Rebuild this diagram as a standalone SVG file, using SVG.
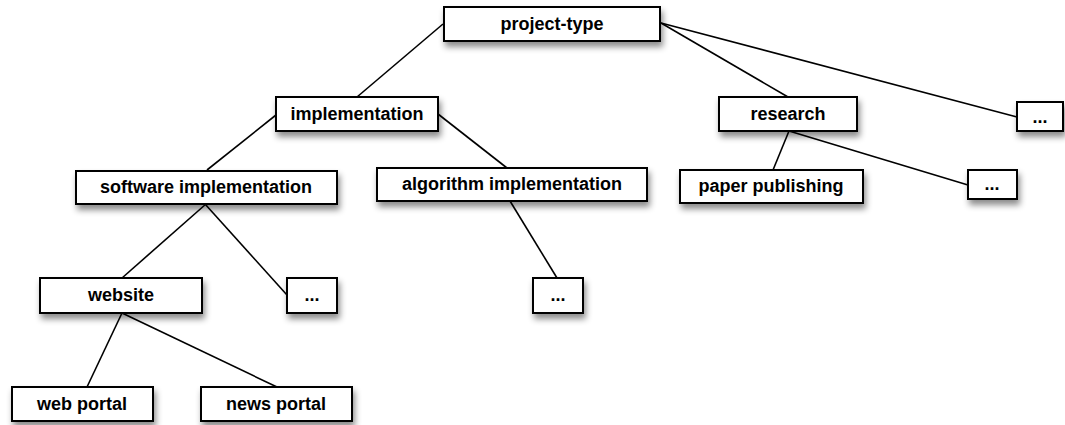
<svg xmlns="http://www.w3.org/2000/svg" width="1065" height="425" viewBox="0 0 1065 425">
<defs>
<filter id="sh" x="-20%" y="-30%" width="140%" height="180%">
<feDropShadow dx="2" dy="5" stdDeviation="3" flood-color="#000" flood-opacity="0.45"/>
</filter>
</defs>
<style>
.box{fill:#fff;stroke:#000;stroke-width:2;filter:url(#sh)}
.lbl{font-family:"Liberation Sans",Arial,Helvetica,sans-serif;font-weight:bold;font-size:18px;text-anchor:middle;fill:#000}
.con line{stroke:#000;stroke-width:1.6;fill:none}
</style>
<rect width="1065" height="425" fill="#fff"/>
<g class="con" id="connectors">
<line x1="443" y1="24" x2="357" y2="97"/>
<line x1="661" y1="23" x2="788" y2="97"/>
<line x1="661" y1="23" x2="1017" y2="117"/>
<line x1="276" y1="115" x2="207" y2="170"/>
<line x1="438" y1="114" x2="507" y2="168"/>
<line x1="206" y1="204" x2="122" y2="278"/>
<line x1="205" y1="204" x2="287" y2="295"/>
<line x1="510" y1="201" x2="557" y2="278"/>
<line x1="789" y1="131" x2="773" y2="170"/>
<line x1="789" y1="131" x2="968" y2="185"/>
<line x1="122" y1="313" x2="87" y2="387"/>
<line x1="122" y1="313" x2="277" y2="387"/>
</g>
<g id="project-type"><rect class="box" x="444" y="7" width="216" height="34"/><text class="lbl" x="552" y="30">project-type</text></g>
<g id="implementation"><rect class="box" x="276" y="97" width="162" height="34"/><text class="lbl" x="357" y="120">implementation</text></g>
<g id="research"><rect class="box" x="719" y="97" width="138" height="34"/><text class="lbl" x="788" y="120">research</text></g>
<g id="more-top"><rect class="box" x="1017" y="102" width="46" height="29"/><text class="lbl" x="1040" y="123">...</text></g>
<g id="software-implementation"><rect class="box" x="76" y="171" width="261" height="33"/><text class="lbl" x="206" y="193">software implementation</text></g>
<g id="algorithm-implementation"><rect class="box" x="377" y="168" width="270" height="33"/><text class="lbl" x="512" y="190">algorithm implementation</text></g>
<g id="paper-publishing"><rect class="box" x="680" y="170" width="183" height="33"/><text class="lbl" x="771" y="192">paper publishing</text></g>
<g id="more-research"><rect class="box" x="968" y="170" width="49" height="29"/><text class="lbl" x="992" y="190">...</text></g>
<g id="website"><rect class="box" x="40" y="278" width="162" height="35"/><text class="lbl" x="121" y="301">website</text></g>
<g id="more-software"><rect class="box" x="287" y="278" width="50" height="35"/><text class="lbl" x="312" y="301">...</text></g>
<g id="more-algorithm"><rect class="box" x="533" y="278" width="50" height="35"/><text class="lbl" x="558" y="301">...</text></g>
<g id="web-portal"><rect class="box" x="12" y="387" width="141" height="34"/><text class="lbl" x="82" y="410">web portal</text></g>
<g id="news-portal"><rect class="box" x="201" y="387" width="151" height="34"/><text class="lbl" x="276" y="410">news portal</text></g>
</svg>
